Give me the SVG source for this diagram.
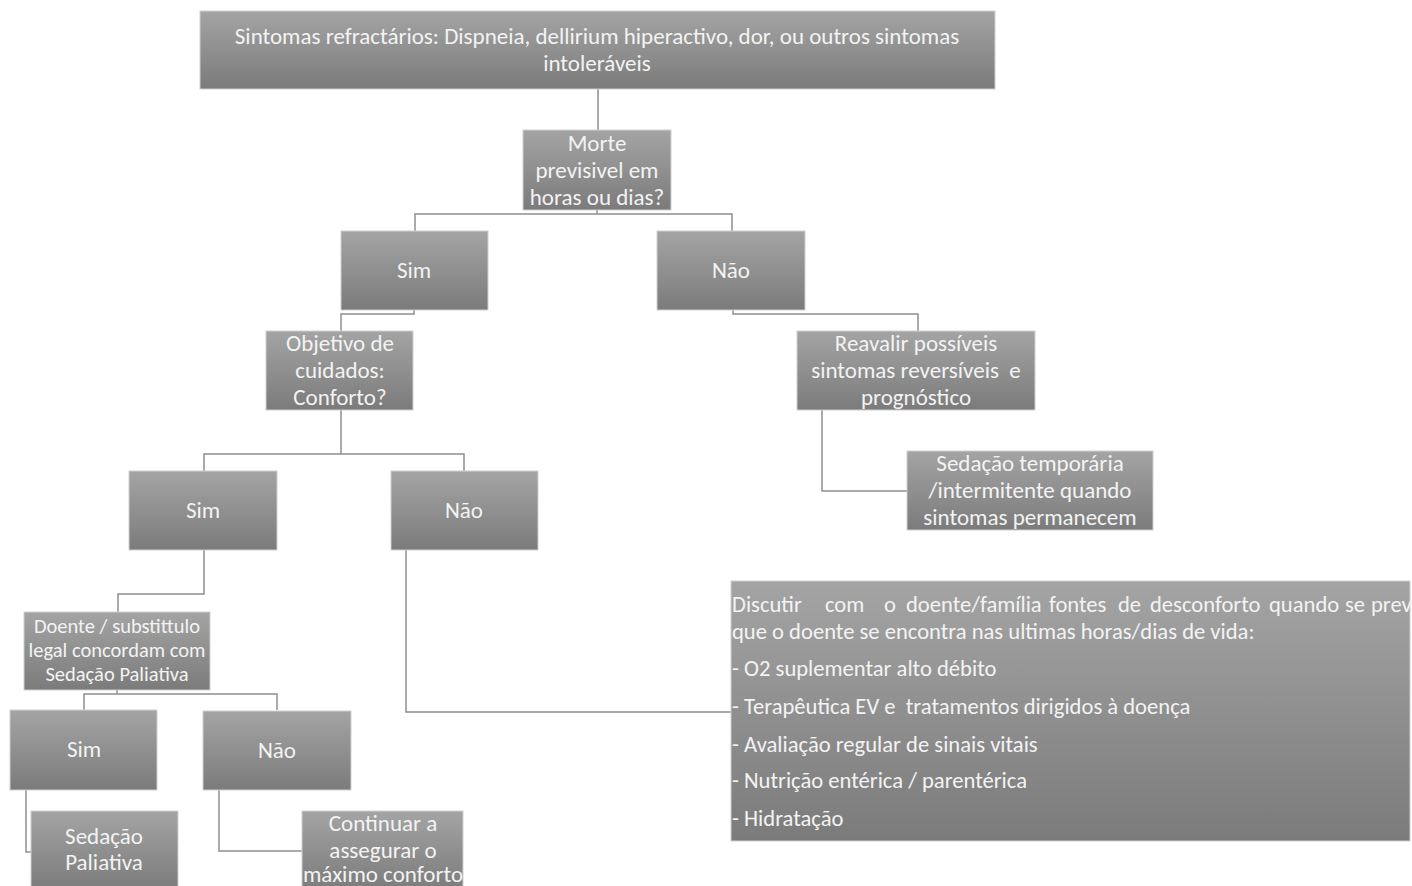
<svg xmlns="http://www.w3.org/2000/svg" width="1412" height="886" viewBox="0 0 1412 886">
<defs>
<linearGradient id="g" x1="0" y1="0" x2="0" y2="1">
<stop offset="0" stop-color="#a4a4a4"/>
<stop offset="1" stop-color="#7b7b7b"/>
</linearGradient>
<style>
.box{fill:url(#g);stroke:#cfcfcf;stroke-width:1}
.t{font-family:Carlito,"Liberation Sans Narrow","Liberation Sans",sans-serif;font-size:23px;fill:#f3f3f3;text-anchor:middle;dominant-baseline:central;white-space:pre}
.s{font-size:20.5px}
.l{text-anchor:start;font-size:22.6px}
.c{fill:none;stroke:#8e8e8e;stroke-width:1.5}
</style>
</defs>
<rect width="1412" height="886" fill="#ffffff"/>
<g id="connectors">
<path class="c" d="M598,89V130"/>
<path class="c" d="M597,210V214M415,231V214H732V231"/>
<path class="c" d="M414,310V314H341V331"/>
<path class="c" d="M733,310V314H918V331"/>
<path class="c" d="M822,410V491H907"/>
<path class="c" d="M341,410V454M204,471V454H464V471"/>
<path class="c" d="M204,550V594H118V612"/>
<path class="c" d="M117,690V694M84,710V694H277V710"/>
<path class="c" d="M26,790V852H31"/>
<path class="c" d="M219,790V851H302"/>
<path class="c" d="M406,550V712H731"/>
</g>
<g id="n-top"><rect class="box" x="200" y="11" width="795" height="78"/>
<text class="t" x="597" y="36">Sintomas refractários: Dispneia, dellirium hiperactivo, dor, ou outros sintomas</text>
<text class="t" x="597" y="63">intoleráveis</text></g>
<g id="n-morte"><rect class="box" x="523" y="130" width="148" height="80"/>
<text class="t" x="597" y="143">Morte</text><text class="t" x="597" y="170">previsivel em</text><text class="t" x="597" y="197">horas ou dias?</text></g>
<g id="n-sim1"><rect class="box" x="341" y="231" width="147" height="79"/><text class="t" x="414" y="270">Sim</text></g>
<g id="n-nao1"><rect class="box" x="657" y="231" width="148" height="79"/><text class="t" x="731" y="270">Não</text></g>
<g id="n-objetivo"><rect class="box" x="266" y="331" width="147" height="79"/>
<text class="t" x="340" y="343">Objetivo de</text><text class="t" x="340" y="370">cuidados:</text><text class="t" x="340" y="397">Conforto?</text></g>
<g id="n-reavalir"><rect class="box" x="797" y="331" width="238" height="79"/>
<text class="t" x="916" y="343">Reavalir possíveis</text><text class="t" x="916" y="370">sintomas reversíveis  e</text><text class="t" x="916" y="397">prognóstico</text></g>
<g id="n-sedtemp"><rect class="box" x="907" y="451" width="246" height="79"/>
<text class="t" x="1030" y="463">Sedação temporária</text><text class="t" x="1030" y="490">/intermitente quando</text><text class="t" x="1030" y="517">sintomas permanecem</text></g>
<g id="n-sim2"><rect class="box" x="129" y="471" width="148" height="79"/><text class="t" x="203" y="510">Sim</text></g>
<g id="n-nao2"><rect class="box" x="391" y="471" width="147" height="79"/><text class="t" x="464" y="510">Não</text></g>
<g id="n-doente"><rect class="box" x="24" y="612" width="186" height="78"/>
<text class="t s" x="117" y="626">Doente / substittulo</text><text class="t s" x="117" y="650">legal concordam com</text><text class="t s" x="117" y="674">Sedação Paliativa</text></g>
<g id="n-sim3"><rect class="box" x="10" y="710" width="147" height="80"/><text class="t" x="84" y="749">Sim</text></g>
<g id="n-nao3"><rect class="box" x="203" y="711" width="148" height="79"/><text class="t" x="277" y="750">Não</text></g>
<g id="n-sedpal"><rect class="box" x="31" y="811" width="147" height="80"/>
<text class="t" x="104" y="836">Sedação</text><text class="t" x="104" y="862">Paliativa</text></g>
<g id="n-continuar"><rect class="box" x="302" y="811" width="161" height="80"/>
<text class="t" x="383" y="823">Continuar a</text><text class="t" x="383" y="850">assegurar o</text><text class="t" x="383" y="874">máximo conforto</text></g>
<g id="n-discutir"><rect class="box" x="731" y="581" width="679" height="260"/>
<text class="t l" y="604"><tspan x="732">Discutir</tspan><tspan x="825">com</tspan><tspan x="884">o</tspan><tspan x="906">doente/família</tspan><tspan x="1049">fontes</tspan><tspan x="1118">de</tspan><tspan x="1150">desconforto</tspan><tspan x="1269">quando</tspan><tspan x="1345">se</tspan><tspan x="1371">prevê</tspan></text>
<text class="t l" x="732" y="631">que o doente se encontra nas ultimas horas/dias de vida:</text>
<text class="t l" x="732" y="668">- O2 suplementar alto débito</text>
<text class="t l" x="732" y="706">- Terapêutica EV e  tratamentos dirigidos à doença</text>
<text class="t l" x="732" y="744">- Avaliação regular de sinais vitais</text>
<text class="t l" x="732" y="780">- Nutrição entérica / parentérica</text>
<text class="t l" x="732" y="818">- Hidratação</text></g>
</svg>
